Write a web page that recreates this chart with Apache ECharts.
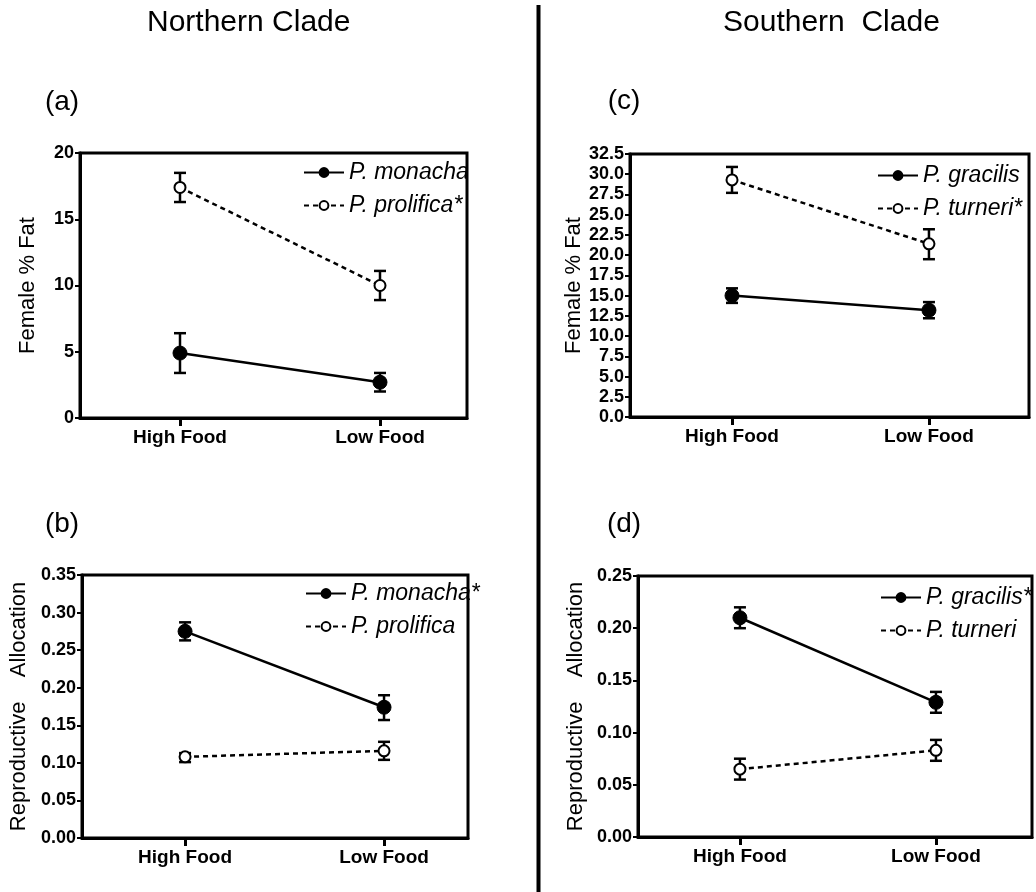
<!DOCTYPE html>
<html><head><meta charset="utf-8">
<script src="https://cdn.jsdelivr.net/npm/echarts@6/dist/echarts.min.js"></script>
<style>html,body{margin:0;padding:0;background:#fff}#c{width:1036px;height:892px}</style>
</head><body><div id="c"></div>
<script>
const categories = ['High Food', 'Low Food'];

// (a) Northern Clade - Female % Fat
const fatMonacha = [4.9, 2.7];
const fatMonachaLo = [3.4, 2.0];
const fatMonachaHi = [6.4, 3.4];
const fatProlifica = [17.4, 10.0];
const fatProlificaLo = [16.3, 8.9];
const fatProlificaHi = [18.5, 11.1];
const fatTicksA = [0, 5, 10, 15, 20];

// (c) Southern Clade - Female % Fat
const fatGracilis = [15.0, 13.2];
const fatGracilisLo = [14.1, 12.2];
const fatGracilisHi = [15.9, 14.2];
const fatTurneri = [29.3, 21.4];
const fatTurneriLo = [27.7, 19.5];
const fatTurneriHi = [30.9, 23.2];
const fatTicksC = [0, 2.5, 5, 7.5, 10, 12.5, 15, 17.5, 20, 22.5, 25, 27.5, 30, 32.5];

// (b) Northern Clade - Reproductive Allocation
const raMonacha = [0.275, 0.174];
const raMonachaLo = [0.263, 0.157];
const raMonachaHi = [0.287, 0.190];
const raProlifica = [0.108, 0.116];
const raProlificaLo = [0.101, 0.104];
const raProlificaHi = [0.113, 0.128];
const raTicksB = [0, 0.05, 0.10, 0.15, 0.20, 0.25, 0.30, 0.35];

// (d) Southern Clade - Reproductive Allocation
const raGracilis = [0.210, 0.129];
const raGracilisLo = [0.200, 0.119];
const raGracilisHi = [0.220, 0.139];
const raTurneri = [0.065, 0.083];
const raTurneriLo = [0.055, 0.073];
const raTurneriHi = [0.075, 0.093];
const raTicksD = [0, 0.05, 0.10, 0.15, 0.20, 0.25];

const FONT = '"Liberation Sans", Arial, sans-serif';

const panels = [
  { grid: {left: 80, top: 153, width: 387, height: 265}, xMin: -0.5, xMax: 1.435,
    ticks: fatTicksA, dec: 0, yName: 'Female % Fat', nameGap: 41,
    legend: {left: 303, top: 161},
    s1: {name: 'P. monacha', v: fatMonacha, lo: fatMonachaLo, hi: fatMonachaHi},
    s2: {name: 'P. prolifica*', v: fatProlifica, lo: fatProlificaLo, hi: fatProlificaHi} },
  { grid: {left: 630, top: 154, width: 399, height: 263}, xMin: -0.518, xMax: 1.508,
    ticks: fatTicksC, dec: 1, yName: 'Female % Fat', nameGap: 40,
    legend: {left: 877, top: 164},
    s1: {name: 'P. gracilis', v: fatGracilis, lo: fatGracilisLo, hi: fatGracilisHi},
    s2: {name: 'P. turneri*', v: fatTurneri, lo: fatTurneriLo, hi: fatTurneriHi} },
  { grid: {left: 82, top: 575, width: 386, height: 263}, xMin: -0.518, xMax: 1.422,
    ticks: raTicksB, dec: 2, yName: 'Reproductive    Allocation', nameGap: 52,
    legend: {left: 305, top: 582},
    s1: {name: 'P. monacha*', v: raMonacha, lo: raMonachaLo, hi: raMonachaHi},
    s2: {name: 'P. prolifica', v: raProlifica, lo: raProlificaLo, hi: raProlificaHi} },
  { grid: {left: 638, top: 576, width: 394, height: 261}, xMin: -0.520, xMax: 1.490,
    ticks: raTicksD, dec: 2, yName: 'Reproductive    Allocation', nameGap: 51,
    legend: {left: 880, top: 586},
    s1: {name: 'P. gracilis*', v: raGracilis, lo: raGracilisLo, hi: raGracilisHi},
    s2: {name: 'P. turneri', v: raTurneri, lo: raTurneriLo, hi: raTurneriHi} }
];

const grids = [], xAxes = [], yAxes = [], series = [], legends = [];

function errRender(params, api) {
  const x = api.value(0);
  const pLo = api.coord([x, api.value(1)]);
  const pHi = api.coord([x, api.value(2)]);
  const hw = 6;
  const st = {stroke: '#000', lineWidth: 2.5};
  return {type: 'group', children: [
    {type: 'line', shape: {x1: pLo[0], y1: pLo[1], x2: pHi[0], y2: pHi[1]}, style: st},
    {type: 'line', shape: {x1: pLo[0]-hw, y1: pLo[1], x2: pLo[0]+hw, y2: pLo[1]}, style: st},
    {type: 'line', shape: {x1: pHi[0]-hw, y1: pHi[1], x2: pHi[0]+hw, y2: pHi[1]}, style: st}
  ]};
}

panels.forEach((p, i) => {
  const t = p.ticks;
  grids.push(Object.assign({show: true, borderColor: '#000', borderWidth: 3, containLabel: false}, p.grid));
  xAxes.push({
    gridIndex: i, type: 'value', min: p.xMin, max: p.xMax,
    axisLine: {show: true, onZero: false, lineStyle: {color: '#000', width: 3}},
    axisTick: {show: true, customValues: [0, 1], length: 8, lineStyle: {color: '#000', width: 3}},
    axisLabel: {customValues: [0, 1], formatter: v => categories[Math.round(v)],
      fontFamily: FONT, fontWeight: 'bold', fontSize: 19, color: '#000', margin: 10},
    splitLine: {show: false}
  });
  yAxes.push({
    gridIndex: i, type: 'value', min: t[0], max: t[t.length - 1], interval: t[1] - t[0],
    axisLine: {show: true, onZero: false, lineStyle: {color: '#000', width: 3}},
    axisTick: {show: true, length: 5, lineStyle: {color: '#000', width: 2}},
    axisLabel: {formatter: v => v.toFixed(p.dec), fontFamily: FONT, fontWeight: 'bold',
      fontSize: 18, color: '#000', margin: 6},
    splitLine: {show: false},
    name: p.yName, nameLocation: 'middle', nameRotate: 90, nameGap: p.nameGap,
    nameTextStyle: {fontFamily: FONT, fontSize: 22, color: '#000'}
  });
  series.push({
    name: p.s1.name, type: 'line', xAxisIndex: i, yAxisIndex: i, z: 5,
    data: p.s1.v.map((v, k) => [k, v]),
    symbol: 'circle', symbolSize: 14,
    lineStyle: {color: '#000', width: 2.5, type: 'solid'},
    itemStyle: {color: '#000', borderColor: '#000', borderWidth: 1},
    emphasis: {disabled: true}, animation: false
  });
  series.push({
    name: p.s2.name, type: 'line', xAxisIndex: i, yAxisIndex: i, z: 5,
    data: p.s2.v.map((v, k) => [k, v]),
    symbol: 'circle', symbolSize: 11,
    lineStyle: {color: '#000', width: 2.5, type: [5, 4]},
    itemStyle: {color: '#fff', borderColor: '#000', borderWidth: 2},
    emphasis: {disabled: true}, animation: false
  });
  [p.s1, p.s2].forEach((s, j) => {
    series.push({
      name: 'err' + i + '_' + j, type: 'custom', xAxisIndex: i, yAxisIndex: i, z: 3,
      renderItem: errRender,
      data: s.v.map((v, k) => [k, s.lo[k], s.hi[k]]),
      animation: false, silent: true
    });
  });
  legends.push({
    orient: 'vertical', left: p.legend.left, top: p.legend.top, padding: 0,
    itemWidth: 40, itemHeight: 11, itemGap: 10, selectedMode: false,
    data: [p.s1.name, p.s2.name],
    textStyle: {fontFamily: FONT, fontStyle: 'italic', fontSize: 23, color: '#000', lineHeight: 22}
  });
});

function txt(x, y, text, size, align) {
  return {type: 'text', x: x, y: y, style: {text: text, font: size + 'px ' + FONT, fill: '#000',
    textAlign: align || 'left', textVerticalAlign: 'middle'}};
}

const chart = echarts.init(document.getElementById('c'), null, {renderer: 'canvas'});
chart.setOption({
  backgroundColor: '#fff',
  animation: false,
  grid: grids, xAxis: xAxes, yAxis: yAxes, series: series, legend: legends,
  graphic: [
    {type: 'line', shape: {x1: 538.5, y1: 5, x2: 538.5, y2: 892}, style: {stroke: '#000', lineWidth: 4}},
    txt(147, 23, 'Northern Clade', 30),
    txt(723, 23, 'Southern  Clade', 30),
    txt(62, 102, '(a)', 28, 'center'),
    txt(624, 101, '(c)', 28, 'center'),
    txt(62, 524, '(b)', 28, 'center'),
    txt(624, 524, '(d)', 28, 'center')
  ]
});
</script></body></html>
